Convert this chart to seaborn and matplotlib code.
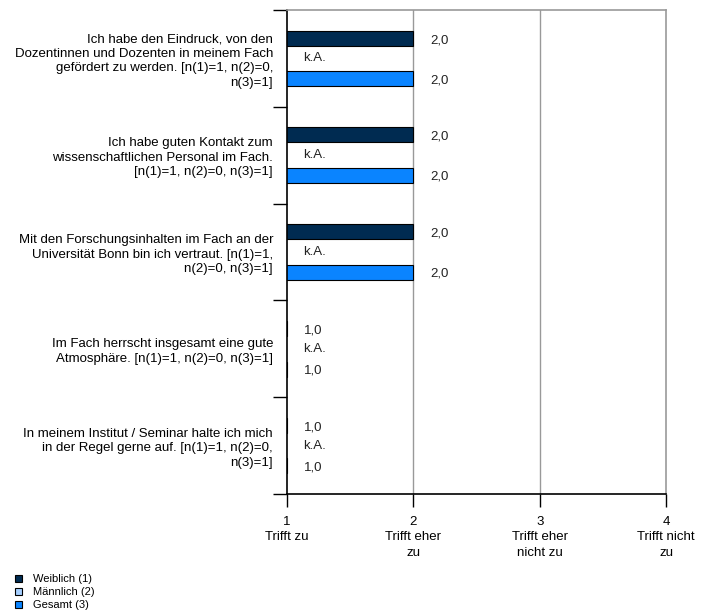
import matplotlib
matplotlib.use("Agg")
import matplotlib.pyplot as plt
import seaborn as sns
import pandas as pd
import numpy as np
from matplotlib.patches import Patch

categories = [
    "Ich habe den Eindruck, von den\nDozentinnen und Dozenten in meinem Fach\ngefördert zu werden. [n(1)=1, n(2)=0,\nn(3)=1]",
    "Ich habe guten Kontakt zum\nwissenschaftlichen Personal im Fach.\n[n(1)=1, n(2)=0, n(3)=1]",
    "Mit den Forschungsinhalten im Fach an der\nUniversität Bonn bin ich vertraut. [n(1)=1,\nn(2)=0, n(3)=1]",
    "Im Fach herrscht insgesamt eine gute\nAtmosphäre. [n(1)=1, n(2)=0, n(3)=1]",
    "In meinem Institut / Seminar halte ich mich\nin der Regel gerne auf. [n(1)=1, n(2)=0,\nn(3)=1]",
]
series = ["Weiblich (1)", "Männlich (2)", "Gesamt (3)"]
weiblich = [2.0, 2.0, 2.0, 1.0, 1.0]
maennlich = [np.nan, np.nan, np.nan, np.nan, np.nan]
gesamt = [2.0, 2.0, 2.0, 1.0, 1.0]
x_ticks = [1, 2, 3, 4]
x_labels = ["1\nTrifft zu", "2\nTrifft eher\nzu", "3\nTrifft eher\nnicht zu", "4\nTrifft nicht\nzu"]
colors = ["#002B51", "#A6CFFF", "#0A84FF"]

rows = []
for s, vals in zip(series, [weiblich, maennlich, gesamt]):
    for c, v in zip(categories, vals):
        rows.append({"cat": c, "series": s, "value": v})
df = pd.DataFrame(rows)

plt.rcParams["font.family"] = ["Liberation Sans", "DejaVu Sans"]
FS = 9.5
fig = plt.figure(figsize=(7.11, 6.14), dpi=100)
ax = fig.add_axes([287/711, 1 - 494/614, (666-287)/711, (494-10)/614])

sns.barplot(data=df, y="cat", x="value", hue="series", order=categories,
            hue_order=series, palette=colors, orient="h", width=0.63,
            saturation=1, edgecolor="black", linewidth=0.8, legend=False,
            ax=ax, errorbar=None)

# bar thickness around centers
for p in ax.patches:
    h = p.get_height()
    yc = p.get_y() + h / 2
    newh = 0.155
    p.set_height(newh)
    p.set_y(yc - newh / 2)

ax.set_xlim(1, 4)
ax.set_ylim(len(categories) - 0.5, -0.5)

# value labels
offs = {0: -0.19, 1: 0.0, 2: 0.225}
for si, vals in enumerate([weiblich, maennlich, gesamt]):
    for ci, v in enumerate(vals):
        y = ci + offs[si]
        if np.isnan(v):
            ax.text(1.127, y, "k.A.", ha="left", va="center", fontsize=FS, color="#222222")
        else:
            ax.text(v + 0.135, y, f"{v:.1f}".replace(".", ","), ha="left", va="center",
                    fontsize=FS, color="#222222")

# grid
for xv in [2, 3]:
    ax.axvline(xv, color="#999999", linewidth=1, zorder=0)

ax.set_xticks(x_ticks)
ax.set_xticklabels(x_labels, fontsize=FS, linespacing=1.35)
ax.tick_params(axis="x", length=9, width=1, color="black", pad=7)

ax.set_yticks(np.arange(-0.5, len(categories)), minor=False)
ax.set_yticklabels([])
ax.tick_params(axis="y", which="major", length=10, width=1)
ax.set_yticks(np.arange(len(categories)), minor=True)
ax.set_yticklabels(categories, minor=True, fontsize=FS, linespacing=1.27)
ax.tick_params(axis="y", which="minor", length=0, pad=10)
for lbl in ax.get_yticklabels(minor=True):
    lbl.set_horizontalalignment("right")
    lbl.set_multialignment("right")

ax.set_xlabel("")
ax.set_ylabel("")
for side in ["top", "right"]:
    ax.spines[side].set_color("#999999")
    ax.spines[side].set_linewidth(1.2)
for side in ["left", "bottom"]:
    ax.spines[side].set_color("black")
    ax.spines[side].set_linewidth(1.2)

handles = [Patch(facecolor=c, edgecolor="black", linewidth=0.8, label=s) for c, s in zip(colors, series)]
fig.legend(handles=handles, loc="lower left", bbox_to_anchor=(15/711, 4/614), frameon=False,
           fontsize=8, handlelength=0.6, handleheight=0.6, handletextpad=1.0,
           labelspacing=0.25, borderaxespad=0.0, borderpad=0.0)

fig.savefig("out.png", dpi=100)
